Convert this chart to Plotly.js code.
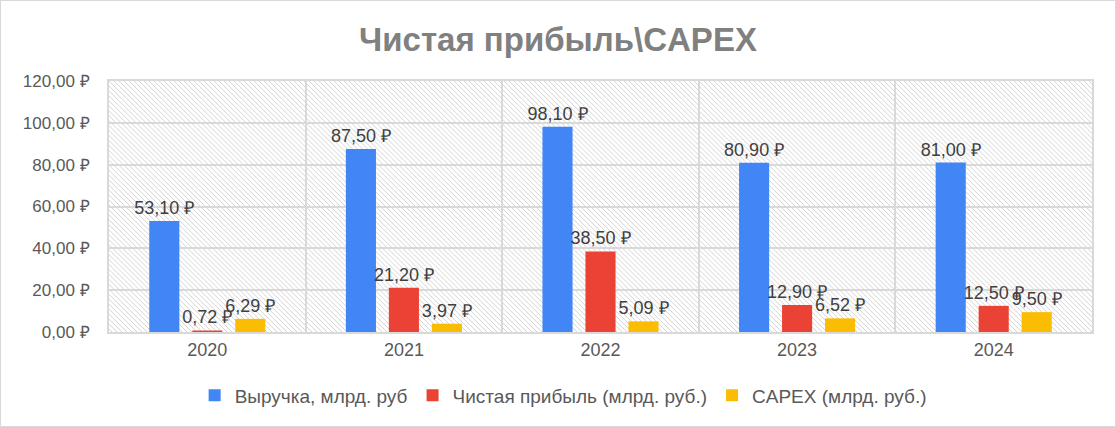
<!DOCTYPE html>
<html>
<head>
<meta charset="utf-8">
<script src="https://cdn.plot.ly/plotly-3.0.1.min.js"></script>
<style>
  body { margin: 0; background: #fff; }
  #chart { width: 1114px; height: 425px; border: 1px solid #d9d9d9; }
</style>
</head>
<body>
<div id="chart"></div>
<script>
var years = ['2020', '2021', '2022', '2023', '2024']
var revenue = [53.10, 87.50, 98.10, 80.90, 81.00]
var netProfit = [0.72, 21.20, 38.50, 12.90, 12.50]
var capex = [6.29, 3.97, 5.09, 6.52, 9.50]
var seriesNames = ['Выручка, млрд. руб', 'Чистая прибыль (млрд. руб.)', 'CAPEX (млрд. руб.)']
var colors = ['#4285f4', '#ea4335', '#fbbc04']

var font = 'Liberation Sans, Arial, sans-serif'

// hatched plot background, drawn as an svg image under the bars
var hatch = "<svg xmlns='http://www.w3.org/2000/svg' width='983' height='253'>" +
  "<defs><pattern id='h' width='5' height='5' patternUnits='userSpaceOnUse'>" +
  "<path d='M-1,-1 L6,6 M-1,4 L1,6 M4,-1 L6,1' stroke='#cfcfcf' stroke-width='0.9'/></pattern></defs>" +
  "<rect width='983' height='253' fill='url(#h)'/></svg>"

function makeTrace(vals, i) {
    return {
        type: 'bar',
        x: years,
        y: vals,
        name: seriesNames[i],
        marker: {color: colors[i]},
        texttemplate: '%{y:.2f} ₽',
        textposition: 'outside',
        constraintext: 'none',
        textfont: {family: font, size: 18, color: '#404040'},
        cliponaxis: false,
        hoverinfo: 'x+y+name'
    }
}

var data = [makeTrace(revenue, 0), makeTrace(netProfit, 1), makeTrace(capex, 2)]

var layout = {
  width: 1114,
  height: 425,
  margin: {l: 108, r: 23, t: 80, b: 92, pad: 0},
  separators: ', ',
  paper_bgcolor: '#ffffff',
  plot_bgcolor: 'rgba(0,0,0,0)',
  font: {family: font, size: 16, color: '#595959'},
  title: {
    text: '<b>Чистая прибыль\\CAPEX</b>',
    font: {family: font, size: 33, color: '#808080'},
    x: 0.5, xanchor: 'center',
    y: 1 - 38 / 425, yref: 'container', yanchor: 'middle'
  },
  barmode: 'group',
  bargap: 0.344,
  bargroupgap: 0.3,
  xaxis: {
    type: 'category',
    tickson: 'boundaries',
    showgrid: true,
    gridcolor: '#d9d9d9',
    gridwidth: 2,
    showline: true,
    linecolor: '#d9d9d9',
    linewidth: 2,
    mirror: true,
    ticks: '',
    tickfont: {family: font, size: 18, color: '#595959'},
    fixedrange: true
  },
  yaxis: {
    range: [0, 120],
    dtick: 20,
    tickformat: '.2f',
    ticksuffix: ' ₽',
    showgrid: true,
    gridcolor: '#d9d9d9',
    gridwidth: 2,
    zeroline: false,
    showline: true,
    linecolor: '#d9d9d9',
    linewidth: 2,
    mirror: true,
    ticks: '',
    ticklabelstandoff: 14,
    tickfont: {family: font, size: 17, color: '#595959'},
    fixedrange: true
  },
  legend: {
    orientation: 'h',
    x: 0.462, xanchor: 'center',
    y: -64 / 253, yanchor: 'middle',
    font: {family: font, size: 19, color: '#595959'},
    itemwidth: 30,
    traceorder: 'normal'
  },
  images: [{
    source: 'data:image/svg+xml;charset=utf-8,' + encodeURIComponent(hatch),
    xref: 'paper', yref: 'paper',
    x: 0, y: 1, sizex: 1, sizey: 1,
    xanchor: 'left', yanchor: 'top',
    sizing: 'stretch',
    layer: 'below'
  }]
}

Plotly.newPlot('chart', data, layout, {displayModeBar: false, staticPlot: true})
</script>
</body>
</html>
